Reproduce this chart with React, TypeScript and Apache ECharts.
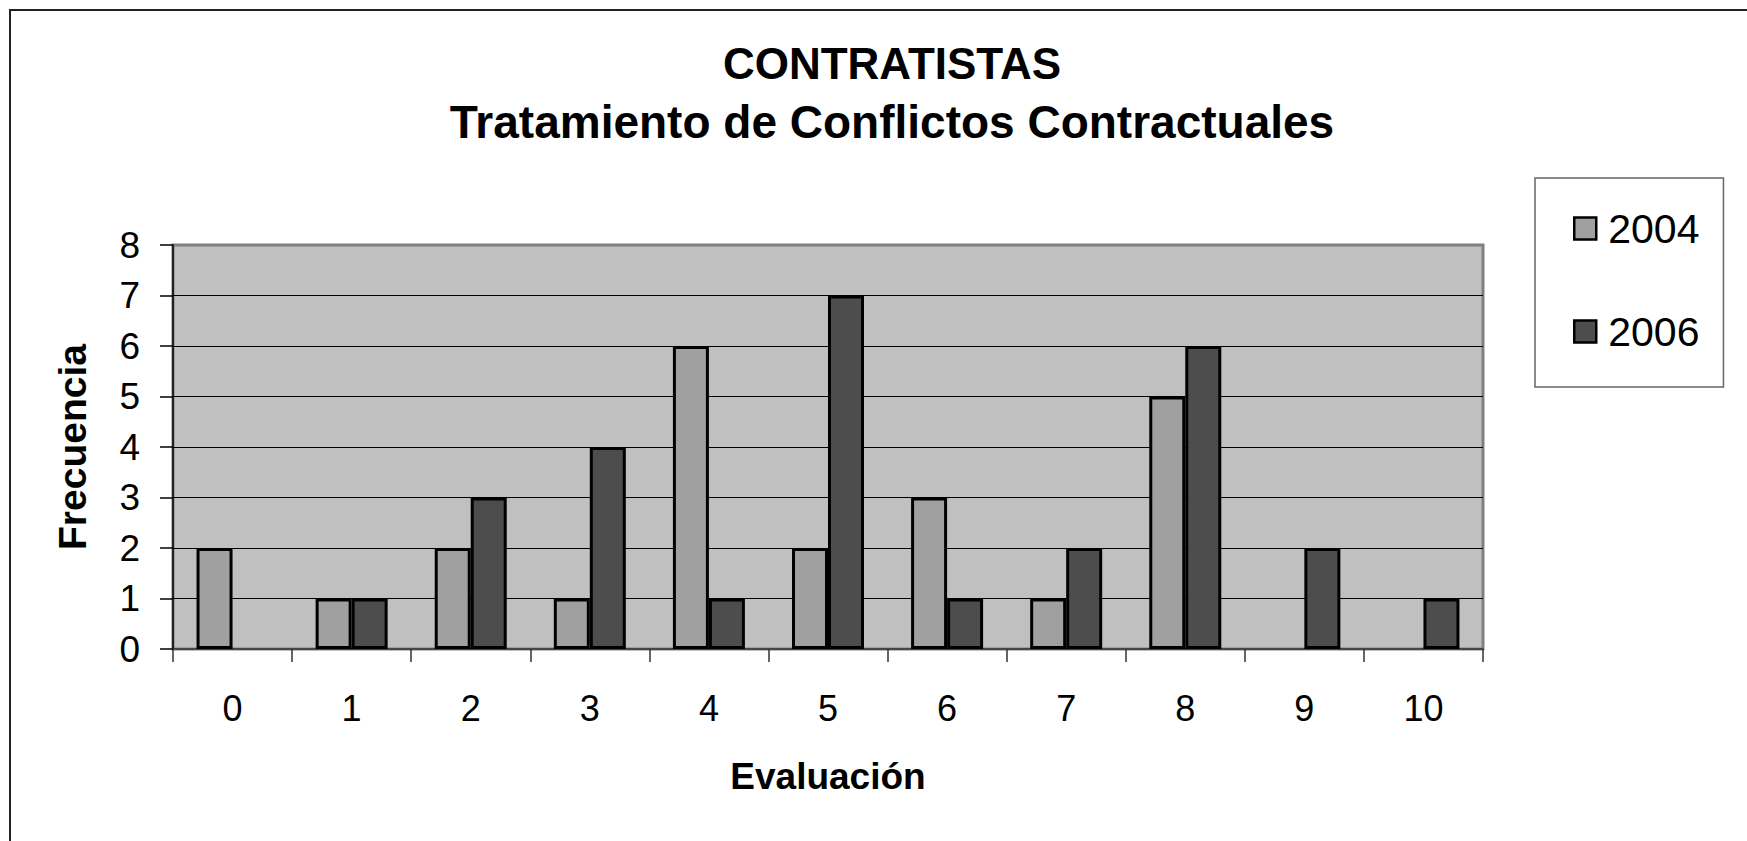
import React, { useEffect, useRef } from 'react';
import * as echarts from 'echarts';

const categories = ['0', '1', '2', '3', '4', '5', '6', '7', '8', '9', '10'];
const values2004 = [2, 1, 2, 1, 6, 2, 3, 1, 5, 0, 0];
const values2006 = [0, 1, 3, 4, 1, 7, 1, 2, 6, 2, 1];
const seriesNames = ['2004', '2006'];
const titleLines = ['CONTRATISTAS', 'Tratamiento de Conflictos Contractuales'];
const xAxisName = 'Evaluación';
const yAxisName = 'Frecuencia';
const yMin = 0;
const yMax = 8;
const yStep = 1;

const toBarData = (vals: number[]) =>
  vals.map((v) => (v === 0 ? { value: v, itemStyle: { borderWidth: 0 } } : v));

export default function App() {
  const ref = useRef<HTMLDivElement>(null);

  useEffect(() => {
    if (!ref.current) return;
    const chart = echarts.init(ref.current, null, { renderer: 'svg' });
    const font = "'Liberation Sans', Arial, sans-serif";
    chart.setOption({
      animation: false,
      backgroundColor: '#ffffff',
      textStyle: { fontFamily: font },
      title: [
        {
          text: titleLines[0],
          left: 892,
          top: 63,
          textAlign: 'center',
          textVerticalAlign: 'middle',
          padding: 0,
          textStyle: { fontSize: 44, fontWeight: 'bold', color: '#000', fontFamily: font },
        },
        {
          text: titleLines[1],
          left: 892,
          top: 122,
          textAlign: 'center',
          textVerticalAlign: 'middle',
          padding: 0,
          textStyle: { fontSize: 46, fontWeight: 'bold', color: '#000', fontFamily: font },
        },
      ],
      graphic: [
        {
          type: 'rect',
          silent: true,
          z: -10,
          shape: { x: 10, y: 10, width: 1800, height: 900 },
          style: { fill: 'none', stroke: '#222', lineWidth: 2 },
        },
      ],
      legend: {
        orient: 'vertical',
        left: 1535,
        top: 178,
        padding: [30, 24, 35, 38],
        itemGap: 62,
        itemWidth: 22,
        itemHeight: 22,
        icon: 'rect',
        backgroundColor: '#fff',
        borderColor: '#666',
        borderWidth: 1.5,
        borderRadius: 0,
        itemStyle: { borderColor: '#000', borderWidth: 2.5 },
        textStyle: { fontSize: 41, color: '#000', fontFamily: font, padding: [0, 0, 0, 7] },
        data: seriesNames,
      },
      grid: {
        left: 173,
        top: 245,
        width: 1310,
        height: 404,
        show: true,
        backgroundColor: '#c0c0c0',
        borderColor: '#808080',
        borderWidth: 3,
        containLabel: false,
        outerBoundsMode: 'none',
      },
      xAxis: {
        type: 'category',
        data: categories,
        boundaryGap: true,
        axisLine: { show: true, lineStyle: { color: '#333', width: 1.5 } },
        axisTick: { show: true, length: 13, interval: 0, alignWithLabel: false, lineStyle: { color: '#333', width: 1.5 } },
        axisLabel: { fontSize: 36, color: '#000', margin: 41, interval: 0, fontFamily: font },
        splitLine: { show: false },
        name: xAxisName,
        nameLocation: 'middle',
        nameGap: 109,
        nameTextStyle: { fontSize: 37, fontWeight: 'bold', color: '#000', fontFamily: font },
      },
      yAxis: {
        type: 'value',
        min: yMin,
        max: yMax,
        interval: yStep,
        axisLine: { show: true, lineStyle: { color: '#000', width: 1.5 } },
        axisTick: { show: true, length: 13, lineStyle: { color: '#000', width: 1.5 } },
        axisLabel: { fontSize: 37, color: '#000', margin: 33, fontFamily: font },
        splitLine: { show: true, showMaxLine: false, showMinLine: false, lineStyle: { color: '#000', width: 1 } },
        name: yAxisName,
        nameLocation: 'middle',
        nameRotate: 90,
        nameGap: 81,
        nameTextStyle: { fontSize: 39, fontWeight: 'bold', color: '#000', fontFamily: font },
      },
      series: [
        {
          name: seriesNames[0],
          type: 'bar',
          data: toBarData(values2004),
          barWidth: 36,
          barGap: '0%',
          itemStyle: { color: '#a0a0a0', borderColor: '#000', borderWidth: 3 },
        },
        {
          name: seriesNames[1],
          type: 'bar',
          data: toBarData(values2006),
          barWidth: 36,
          barGap: '0%',
          itemStyle: { color: '#4d4d4d', borderColor: '#000', borderWidth: 3 },
        },
      ],
    });
    return () => chart.dispose();
  }, []);

  return (
    <div
      ref={ref}
      style={{ position: 'absolute', left: 0, top: 0, width: 1747, height: 841 }}
    />
  );
}
